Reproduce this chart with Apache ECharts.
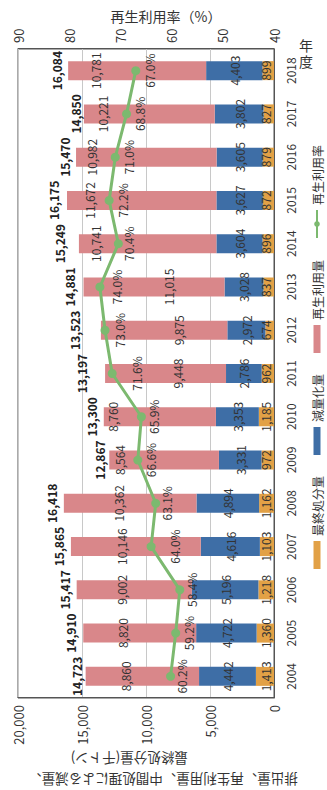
<!DOCTYPE html>
<html><head><meta charset="utf-8">
<script src="https://cdn.jsdelivr.net/npm/echarts@6/dist/echarts.min.js"></script>
<style>
html,body{margin:0;padding:0;background:#fff;width:327px;height:790px;overflow:hidden;}
#chart{position:absolute;left:0;top:790px;width:790px;height:327px;transform-origin:0 0;transform:rotate(-90deg);}
</style></head><body><div id="chart"></div>
<script>
// ---- data ----
const years = ['2004','2005','2006','2007','2008','2009','2010','2011','2012','2013','2014','2015','2016','2017','2018'];
const finalDisposal = [1413, 1360, 1218, 1103, 1162, 972, 1185, 962, 674, 837, 896, 872, 879, 827, 899];      // 最終処分量
const reduction     = [4442, 4722, 5196, 4616, 4894, 3331, 3353, 2786, 2972, 3028, 3604, 3627, 3605, 3802, 4403]; // 減量化量
const recycled      = [8860, 8820, 9002, 10146, 10362, 8564, 8760, 9448, 9875, 11015, 10741, 11672, 10982, 10221, 10781]; // 再生利用量
const totals        = [14723, 14910, 15417, 15865, 16418, 12867, 13300, 13197, 13523, 14881, 15249, 16175, 15470, 14850, 16084]; // 排出量
const recycleRate   = [60.2, 59.2, 58.4, 64.0, 63.1, 66.6, 65.9, 71.6, 73.0, 74.0, 70.4, 72.2, 71.0, 68.8, 67.0]; // 再生利用率
const leftTicks  = {min: 0, max: 20000, interval: 5000};
const rightTicks = {min: 40, max: 90, interval: 10};

// ---- label placement (style only) ----
const pinkLabelAt  = [0.35,0.35,0.39,0.39,0.41,0.09,0.08,0.6,0.61,0.6,0.12,0.15,0.11,0.145,0.2];
const rateLabelGap = [0,2.5,1.5,12.5,0.5,2.5,2,13.5,3.5,6.5,0,2.5,3,2,3.5];
const totalLabelGap= [2.5,6,6,6,6,3,6,17,20,7.5,13,7,5,2,5];

const FONT = "'Noto Sans CJK JP', 'Noto Sans', sans-serif";
const fmt = v => Number(v).toLocaleString('en-US');
const C_PINK = '#d9878a', C_BLUE = '#3e6ea6', C_ORANGE = '#e2a146', C_GREEN = '#7cb96f';

const chart = echarts.init(document.getElementById('chart'), null, {renderer: 'svg', width: 790, height: 327});
chart.setOption({
  animation: false,
  backgroundColor: '#fff',
  textStyle: {fontFamily: FONT},
  grid: {left: 92, right: 49, top: 18, bottom: 53, show: true, borderColor: '#555', borderWidth: 1, outerBoundsMode: 'none', containLabel: false},
  legend: {
    left: 216, top: 306, itemWidth: 28, itemHeight: 7, itemGap: 21,
    textStyle: {fontSize: 12, color: '#333', fontFamily: FONT},
    data: [{name: '最終処分量', icon: 'rect'}, {name: '減量化量', icon: 'rect'}, {name: '再生利用量', icon: 'rect'}, {name: '再生利用率'}]
  },
  xAxis: {
    type: 'category', data: years,
    axisTick: {show: false},
    axisLine: {show: true, lineStyle: {color: '#555'}},
    axisLabel: {margin: 10, fontSize: 12, color: '#333', fontFamily: FONT},
    name: '年\n度', nameLocation: 'end', nameGap: -4, nameRotate: -90, nameMoveOverlap: false,
    nameTextStyle: {fontSize: 14, color: '#333', align: 'center', verticalAlign: 'middle', lineHeight: 16, padding: [0, 0, 0, 64], fontFamily: FONT}
  },
  yAxis: [{
    type: 'value', min: leftTicks.min, max: leftTicks.max, interval: leftTicks.interval,
    axisLine: {show: true, lineStyle: {color: '#555'}}, axisTick: {show: false},
    splitLine: {show: true, lineStyle: {color: '#c8c8c8'}},
    axisLabel: {margin: 7, fontSize: 13, color: '#333', formatter: v => fmt(v), fontFamily: FONT},
    name: '排出量、再生利用量、中間処理による減量、\n\u3000\u3000\u3000\u3000\u3000最終処分量(千トン)',
    nameLocation: 'middle', nameGap: 50, nameRotate: 90, nameMoveOverlap: false,
    nameTextStyle: {fontSize: 13.5, color: '#333', lineHeight: 21, padding: [0, 34, 0, 0], fontFamily: FONT}
  }, {
    type: 'value', min: rightTicks.min, max: rightTicks.max, interval: rightTicks.interval,
    axisLine: {show: true, lineStyle: {color: '#555'}}, axisTick: {show: false},
    splitLine: {show: false},
    axisLabel: {margin: 6, fontSize: 13, color: '#333', fontFamily: FONT},
    name: '再生利用率（%）', nameLocation: 'middle', nameGap: 26, nameRotate: -90, nameMoveOverlap: false,
    nameTextStyle: {fontSize: 14, color: '#333', padding: [0, 0, 0, 40], fontFamily: FONT}
  }],
  series: [{
    name: '最終処分量', type: 'bar', stack: 'amount', barWidth: 19, data: finalDisposal,
    itemStyle: {color: C_ORANGE},
    label: {show: true, position: 'insideBottom', distance: 3, fontSize: 12, color: '#333', formatter: p => fmt(p.value)}
  }, {
    name: '減量化量', type: 'bar', stack: 'amount', barWidth: 19, data: reduction,
    itemStyle: {color: C_BLUE},
    label: {show: true, position: 'inside', fontSize: 12, color: '#333', formatter: p => fmt(p.value)}
  }, {
    name: '再生利用量', type: 'bar', stack: 'amount', barWidth: 19,
    data: recycled.map((v, i) => ({value: v, label: {position: ['50%', (pinkLabelAt[i] * 100) + '%']}})),
    itemStyle: {color: C_PINK},
    label: {show: true, align: 'center', verticalAlign: 'middle', fontSize: 12, color: '#333', formatter: p => fmt(p.value)}
  }, {
    name: '再生利用率', type: 'line', yAxisIndex: 1,
    data: recycleRate.map((v, i) => ({value: v, label: {distance: rateLabelGap[i]}})),
    symbol: 'circle', symbolSize: 9, z: 5,
    lineStyle: {width: 3, color: C_GREEN}, itemStyle: {color: C_GREEN},
    label: {show: true, position: 'bottom', fontSize: 12, color: '#333', formatter: p => p.value.toFixed(1) + '%'}
  }, {
    name: '排出量', type: 'line', silent: true, z: 6,
    data: totals.map((v, i) => ({value: v, label: {distance: totalLabelGap[i]}})),
    symbol: 'circle', symbolSize: 1,
    itemStyle: {color: 'rgba(0,0,0,0)'}, lineStyle: {opacity: 0},
    label: {show: true, position: 'top', fontSize: 12, fontWeight: 'bold', color: '#222', formatter: p => fmt(p.value)}
  }]
});
</script></body></html>
